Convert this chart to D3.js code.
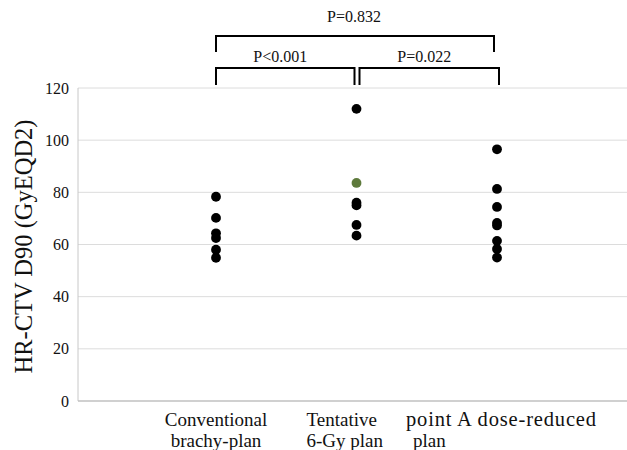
<!DOCTYPE html>
<html>
<head>
<meta charset="utf-8">
<script src="https://cdn.jsdelivr.net/npm/d3@7"></script>
<style>
html,body{margin:0;padding:0;background:#fff;}
svg{display:block;}
</style>
</head>
<body>
<svg id="chart" width="627" height="450" font-family="'Liberation Serif', 'Times New Roman', serif"></svg>
<script>
const categories = ["Conventional brachy-plan", "Tentative 6-Gy plan", "point A dose-reduced plan"];
const categoryLines = [["Conventional", "brachy-plan"], ["Tentative", "6-Gy plan"], ["point A dose-reduced", "plan"]];
const conventionalValues = [78.3, 70.2, 64.3, 62.5, 58.0, 54.9];
const tentativeValues = [112.0, 83.6, 76.0, 75.0, 67.5, 63.4];
const reducedValues = [96.5, 81.3, 74.4, 68.3, 67.3, 61.4, 58.3, 55.0];
const seriesValues = [conventionalValues, tentativeValues, reducedValues];
const highlightPoint = {group: 1, value: 83.6};
const yTicks = [0, 20, 40, 60, 80, 100, 120];
const comparisons = [
  {from: 0, to: 2, label: "P=0.832", level: 1},
  {from: 0, to: 1, label: "P<0.001", level: 0},
  {from: 1, to: 2, label: "P=0.022", level: 0}
];

const FONT = "'Liberation Serif', 'Times New Roman', serif";
const svg = d3.select("#chart");
const plotLeft = 78, plotRight = 627, plotTop = 88, plotBottom = 401;

const y = d3.scaleLinear().domain([0, 120]).range([plotBottom, plotTop]);
const x = d3.scalePoint().domain(categories).range([216, 497]);

// gridlines
svg.append("g").selectAll("line").data(yTicks.filter(d => d > 0)).join("line")
  .attr("x1", plotLeft).attr("x2", plotRight)
  .attr("y1", d => y(d)).attr("y2", d => y(d))
  .attr("stroke", "#dcdcdc").attr("stroke-width", 1);

// axis lines
svg.append("line").attr("x1", plotLeft).attr("x2", plotLeft)
  .attr("y1", plotTop).attr("y2", plotBottom)
  .attr("stroke", "#c8c8c8").attr("stroke-width", 1);
svg.append("line").attr("x1", plotLeft).attr("x2", plotRight)
  .attr("y1", plotBottom).attr("y2", plotBottom)
  .attr("stroke", "#c0c0c0").attr("stroke-width", 1.5);

// y tick labels
const yAxis = d3.axisLeft(y).tickValues(yTicks).tickSize(0).tickPadding(9);
const gy = svg.append("g").attr("transform", `translate(${plotLeft},0)`).call(yAxis);
gy.attr("font-family", FONT).attr("font-size", 16);
gy.select(".domain").remove();
gy.selectAll("text").attr("fill", "#111");

// y title
svg.append("text")
  .attr("transform", `translate(32,${(plotTop + plotBottom) / 2 + 2}) rotate(-90)`)
  .attr("text-anchor", "middle")
  .attr("font-family", FONT)
  .attr("font-size", 24.5)
  .attr("fill", "#111")
  .text("HR-CTV D90 (GyEQD2)");

// category labels
const labelPos = [[{dx: 0, a: "middle", fs: 19}, {dx: 0, a: "middle", fs: 19}],
                  [{dx: -50, a: "start", fs: 19}, {dx: -50, a: "start", fs: 19}],
                  [{dx: -91, a: "start", fs: 20.5, len: 190}, {dx: -84, a: "start", fs: 19}]];
categories.forEach((c, i) => {
  categoryLines[i].forEach((line, j) => {
    const p = labelPos[i][j];
    const t = svg.append("text")
      .attr("x", x(c) + p.dx)
      .attr("y", 426 + j * 21)
      .attr("text-anchor", p.a)
      .attr("font-family", FONT)
      .attr("font-size", p.fs)
      .attr("fill", "#111")
      .text(line);
    if (p.len) t.attr("textLength", p.len).attr("lengthAdjust", "spacing");
  });
});

// points
const pts = [];
seriesValues.forEach((vals, i) => vals.forEach(v => pts.push({c: categories[i], g: i, v})));
svg.append("g").selectAll("circle").data(pts).join("circle")
  .attr("cx", d => x(d.c)).attr("cy", d => y(d.v)).attr("r", 4.9)
  .attr("fill", d => (d.g === highlightPoint.group && d.v === highlightPoint.value) ? "#5e7a3c" : "#000");

// brackets
const levelY = [68, 36], legLen = [17, 16];
const gB = svg.append("g");
comparisons.forEach(cmp => {
  const x1 = x(categories[cmp.from]) + (cmp.level === 0 && cmp.from === 1 ? 3 : 0);
  const x2 = x(categories[cmp.to]) + (cmp.level === 0 && cmp.to === 1 ? -2 : (cmp.level === 1 ? -3 : 2));
  const yy = levelY[cmp.level], L = legLen[cmp.level];
  gB.append("path")
    .attr("d", `M${x1},${yy + L}V${yy}H${x2}V${yy + L}`)
    .attr("fill", "none").attr("stroke", "#000").attr("stroke-width", 2);
  gB.append("text")
    .attr("x", (x1 + x2) / 2 + (cmp.level === 1 ? -1 : -5))
    .attr("y", yy - (cmp.level === 1 ? 14 : 6))
    .attr("text-anchor", "middle")
    .attr("font-family", FONT)
    .attr("font-size", 16)
    .attr("fill", "#111")
    .text(cmp.label);
});
</script>
</body>
</html>
